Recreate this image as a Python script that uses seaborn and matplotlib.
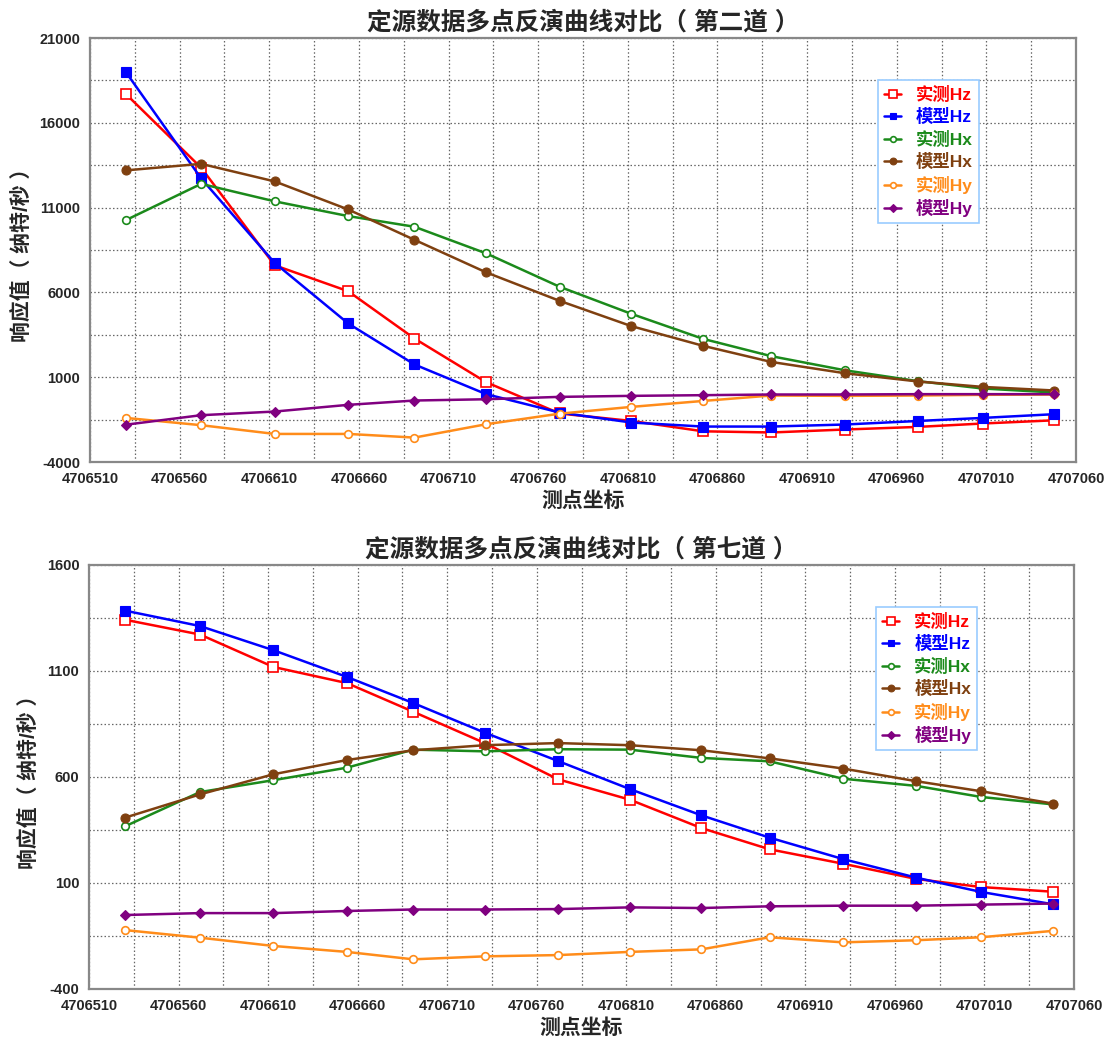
import numpy as np
import pandas as pd
import matplotlib
matplotlib.use("Agg")
import matplotlib.pyplot as plt
import seaborn as sns

# Station coordinates along the survey line
station_x = [4706530, 4706572, 4706613, 4706654, 4706691, 4706731, 4706772,
             4706812, 4706852, 4706890, 4706931, 4706972, 4707008, 4707048]

series_names = ["实测Hz", "模型Hz", "实测Hx", "模型Hx", "实测Hy", "模型Hy"]

# Channel 2 responses (nT/s)
ch2_obs_hz = [17700, 13350, 7600, 6070, 3280, 705, -1140, -1580, -2190, -2260, -2085, -1930, -1730, -1540]
ch2_mod_hz = [18990, 12720, 7740, 4170, 1750, 0, -1085, -1673, -1910, -1910, -1790, -1580, -1400, -1180]
ch2_obs_hx = [10260, 12400, 11370, 10500, 9870, 8300, 6330, 4735, 3260, 2240, 1410, 764, 333, 97]
ch2_mod_hx = [13195, 13580, 12545, 10890, 9100, 7180, 5500, 4010, 2850, 1900, 1236, 746, 428, 215]
ch2_obs_hy = [-1400, -1830, -2345, -2345, -2560, -1773, -1150, -750, -400, -80, -100, -80, -40, -20]
ch2_mod_hy = [-1800, -1240, -1025, -630, -375, -300, -160, -100, -60, -20, -20, 0, 0, 0]

# Channel 7 responses (nT/s)
ch7_obs_hz = [1342, 1272, 1119, 1043, 908, 760, 589, 493, 359, 259, 191, 119, 81, 59]
ch7_mod_hz = [1385, 1312, 1198, 1072, 949, 809, 675, 543, 419, 314, 213, 125, 58, 0]
ch7_obs_hx = [367, 529, 585, 644, 729, 721, 731, 729, 690, 674, 592, 558, 506, 471]
ch7_mod_hx = [408, 518, 613, 680, 726, 750, 760, 750, 726, 688, 640, 580, 533, 475]
ch7_obs_hy = [-122, -158, -197, -225, -260, -246, -240, -225, -213, -156, -180, -170, -156, -126]
ch7_mod_hy = [-51, -42, -42, -32, -25, -25, -23, -15, -18, -10, -7, -7, -2, 3]

x_ticks = list(range(4706510, 4707061, 50))

colors = ["#ff0000", "#0000ff", "#1b8a1b", "#7f4010", "#ff8c1a", "#800080"]
styles = [
    dict(marker="s", markersize=7, markerfacecolor="white", markeredgewidth=1.2),
    dict(marker="s", markersize=6.5, markeredgewidth=0.8),
    dict(marker="o", markersize=5.5, markerfacecolor="white", markeredgewidth=1.2),
    dict(marker="o", markersize=6.5, markeredgewidth=0.8),
    dict(marker="o", markersize=5.5, markerfacecolor="white", markeredgewidth=1.2),
    dict(marker="D", markersize=5.5, markeredgewidth=0.8),
]

sns.set_style("white")
plt.rcParams["font.family"] = ["Liberation Sans", "Noto Sans CJK SC", "DejaVu Sans"]
plt.rcParams["font.weight"] = "bold"

fig = plt.figure(figsize=(11.1, 10.38), dpi=100)

panels = [
    dict(rect=[90 / 1110, 1 - 462 / 1038, 986 / 1110, 424 / 1038],
         title="定源数据多点反演曲线对比（ 第二道 ）",
         data=[ch2_obs_hz, ch2_mod_hz, ch2_obs_hx, ch2_mod_hx, ch2_obs_hy, ch2_mod_hy],
         ylim=(-4000, 21000), ystep=5000),
    dict(rect=[89 / 1110, 1 - 989 / 1038, 985 / 1110, 424 / 1038],
         title="定源数据多点反演曲线对比（ 第七道 ）",
         data=[ch7_obs_hz, ch7_mod_hz, ch7_obs_hx, ch7_mod_hx, ch7_obs_hy, ch7_mod_hy],
         ylim=(-400, 1600), ystep=500),
]

for p in panels:
    ax = fig.add_axes(p["rect"])
    df = pd.DataFrame({"x": station_x})
    for name, vals in zip(series_names, p["data"]):
        df[name] = vals
    for name, col, st in zip(series_names, colors, styles):
        kw = dict(st)
        kw.setdefault("markerfacecolor", col)
        sns.lineplot(data=df, x="x", y=name, ax=ax, color=col, linewidth=1.8,
                     markeredgecolor=col, label=name, **kw)

    lo, hi = p["ylim"]
    step = p["ystep"]
    ax.set_xlim(4706510, 4707060)
    ax.set_ylim(lo, hi)
    ax.set_xticks(x_ticks)
    ax.set_xticklabels([str(v) for v in x_ticks])
    ax.set_xticks(np.arange(4706535, 4707060, 50), minor=True)
    yt = np.arange(lo, hi + 1, step)
    ax.set_yticks(yt)
    ax.set_yticklabels([str(int(v)) for v in yt])
    ax.set_yticks(np.arange(lo + step / 2, hi, step), minor=True)

    ax.grid(True, which="both", linestyle=(0, (1.2, 1.8)), color="#666666", linewidth=0.9)
    ax.tick_params(which="both", direction="in", length=6, width=1, color="#444444",
                   labelsize=10.5, pad=7, top=False, right=False)
    for lab in ax.get_xticklabels() + ax.get_yticklabels():
        lab.set_fontweight("bold")
    for s in ax.spines.values():
        s.set_color("#888888")
        s.set_linewidth(1.6)

    ax.set_title(p["title"], fontsize=17.7, fontweight="bold", pad=6)
    ax.set_xlabel("测点坐标", fontsize=15, fontweight="bold", labelpad=4)
    ax.set_ylabel("响应值（ 纳特/秒 ）", fontsize=15, fontweight="bold", labelpad=5)

    leg = ax.legend(loc="upper left", bbox_to_anchor=(0.799, 0.902), fontsize=12.5,
                    labelcolor="linecolor", handlelength=1.0, handletextpad=0.85,
                    borderpad=0.35, labelspacing=0.31, fancybox=False, framealpha=1,
                    borderaxespad=0, markerscale=0.75)
    leg.get_frame().set_edgecolor("#99ccff")
    leg.get_frame().set_linewidth(1.2)
    for t in leg.get_texts():
        t.set_fontweight("bold")

fig.savefig("out.png", dpi=100, facecolor="white")
